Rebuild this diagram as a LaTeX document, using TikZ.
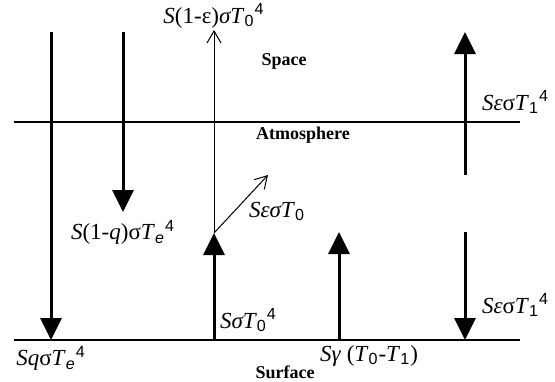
\documentclass[tikz,border=0pt]{standalone}
\usepackage{fontspec}
\setmainfont{Liberation Serif}
\newfontfamily\indfont{Liberation Sans}
\usepackage{tikz}
\usetikzlibrary{arrows.meta, positioning}

% Indices et exposants (chiffres droits)
\newcommand{\bas}[1]{\textsubscript{\indfont #1}}
\newcommand{\haut}[1]{\textsuperscript{\indfont #1}}

\begin{document}
\begin{tikzpicture}[
        x=0.5pt, y=-0.5pt,
        % Définition des styles
        every node/.style = {inner sep=0pt, outer sep=0pt},
        % Style des étiquettes de flux
        flux/.style = {font=\fontsize{11.5}{13}\selectfont},
        % Style des noms de couches
        couche/.style = {font=\fontsize{9}{11}\selectfont\bfseries},
        % Style des niveaux (atmosphère, surface)
        niveau/.style = {line width=0.65pt},
        % Flèches épaisses et fines
        epais/.style = {-{Triangle[width=10.5pt,length=11pt]}, line width=1.5pt},
        fin/.style = {-{Straight Barb[width=7pt,length=6pt]}, line width=0.5pt}
    ]
        \useasboundingbox (0,0) rectangle (555,381);

        % 1. Points de référence
        \coordinate (atmG) at (14,122);  \coordinate (atmD) at (520,122);
        \coordinate (solG) at (14,340);  \coordinate (solD) at (520,340);
        \coordinate (g1h) at (51,32);    \coordinate (g1b) at (51,340);
        \coordinate (g2h) at (123,32);   \coordinate (g2b) at (123,212);
        \coordinate (cb) at (214,340);   \coordinate (cm) at (214,233);
        \coordinate (ch) at (214,30);    \coordinate (cd) at (268,175);
        \coordinate (sb) at (339,340);   \coordinate (sh) at (339,232);
        \coordinate (d1b) at (465,175);  \coordinate (d1h) at (465,32);
        \coordinate (d2h) at (465,232);  \coordinate (d2b) at (465,340);

        % 2. Niveaux
        \draw [niveau] (atmG) -- (atmD);
        \draw [niveau] (solG) -- (solD);

        % 3. Flèches
        \draw [epais] (g1h) -- (g1b);
        \draw [epais] (g2h) -- (g2b);
        \draw [epais] (cb) -- (cm);
        \draw [fin] (cm) -- (ch);
        \draw [fin] (cm) -- (cd);
        \draw [epais] (sb) -- (sh);
        \draw [epais] (d1b) -- (d1h);
        \draw [epais] (d2h) -- (d2b);

        % 4. Étiquettes
        \node (espace) [couche] at (284,61) {Space};
        \node (atmo)   [couche] at (303,135) {Atmosphere};
        \node (surf)   [couche] at (285,372) {Surface};

        \node (lHaut)  [flux, above=1pt of ch] {\textit{S}(1-ε)\textit{σT}\bas{0}\haut{4}};
        \node (lQ)     [flux, below=4pt of g2b] {\textit{S}(1-\textit{q})σ\textit{T}\bas{\textit{e}}\haut{4}};
        \node (lSq)    [flux, below=3pt of g1b] {\textit{Sq}σ\textit{T}\bas{\textit{e}}\haut{4}};
        \node (lDiag)  [flux, anchor=base west] at (249,217) {\textit{SεσT}\bas{0}};
        \node (lSigma) [flux, anchor=base west] at (220,328) {\textit{SσT}\bas{0}\haut{4}};
        \node (lGamma) [flux, anchor=base west] at (320,361) {\textit{Sγ} (\textit{T}\bas{0}-\textit{T}\bas{1})};
        \node (lD1)    [flux, anchor=base west] at (482,110) {\textit{Sε}σ\textit{T}\bas{1}\haut{4}};
        \node (lD2)    [flux, anchor=base west] at (482,313) {\textit{Sε}σ\textit{T}\bas{1}\haut{4}};

    \end{tikzpicture}
\end{document}
